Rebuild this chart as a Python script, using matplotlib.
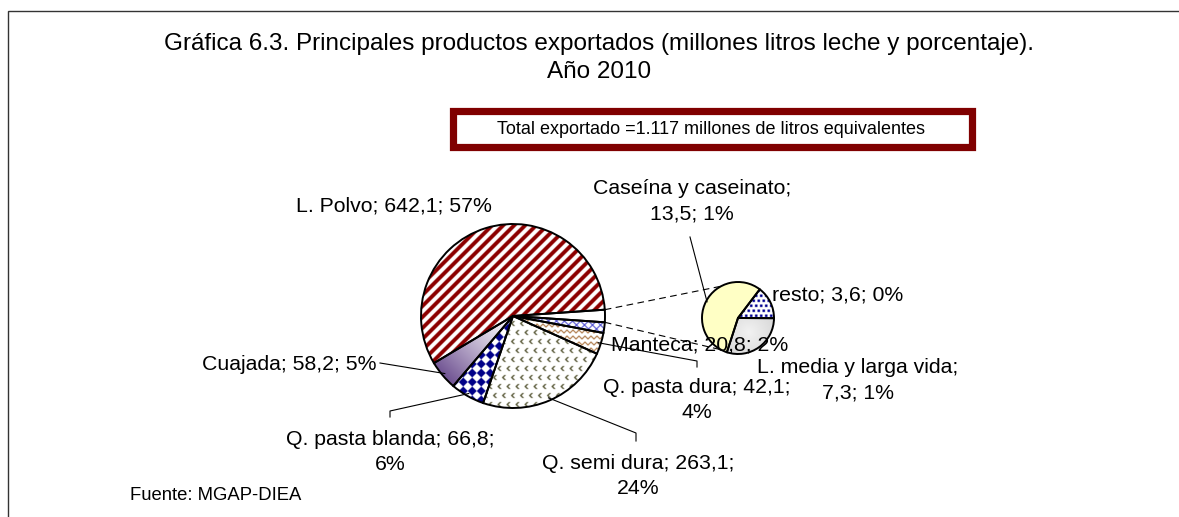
import matplotlib.pyplot as plt
import numpy as np
from matplotlib.colors import to_rgb
from matplotlib.patches import Rectangle, Wedge

plt.rcParams["font.family"] = ["Liberation Sans", "DejaVu Sans"]

# ── 0. Data (millones de litros de leche equivalentes, año 2010) ─────────────
main_names  = ["Manteca", "Q. pasta dura", "Q. semi dura",
               "Q. pasta blanda", "Cuajada", "L. Polvo"]
main_values = [20.8, 42.1, 263.1, 66.8, 58.2, 642.1]
sub_names   = ["Caseína y caseinato", "resto", "L. media y larga vida"]
sub_values  = [13.5, 3.6, 7.3]

title  = ("Gráfica 6.3. Principales productos exportados "
          "(millones litros leche y porcentaje).\nAño 2010")
source = "Fuente: MGAP-DIEA"

other = sum(sub_values)
pie_values = [other] + main_values
total = sum(pie_values)

W, H = 1179, 517


def P(x, y):
    """pixel position (from top-left) -> data coords"""
    return x, H - y


def fmt(name, v, brk=None):
    val = f"{v:.1f}".replace(".", ",")
    pct = f"{round(v / total * 100):.0f}%"
    if brk == "name":
        return f"{name};\n{val}; {pct}"
    if brk == "value":
        return f"{name}; {val};\n{pct}"
    return f"{name}; {val}; {pct}"


# ── 1. Texture helpers ───────────────────────────────────────────────────────
def mix(mask, fg, bg="white"):
    fg, bg = np.array(to_rgb(fg)), np.array(to_rgb(bg))
    m = mask.astype(float)[..., None]
    return m * fg + (1 - m) * bg


def texture(kind, X, Y, cx, cy, r):
    if kind == "stripes":
        return mix(((X - Y) % 11) < 5.2, "#8c0000")
    if kind == "chevrons":
        row = np.floor(Y / 9)
        u = (X + 4.5 * (row % 2)) % 9 - 4.5
        v = Y % 9 - 4.5
        m = (np.abs(u + 1.2 - np.abs(v)) < 1.0) & (np.abs(v) < 2.4)
        return mix(m, "#5e5e3e")
    if kind == "diamonds":
        m = (np.floor((X + Y) / 9) + np.floor((X - Y) / 9)) % 2 == 0
        return mix(m, "#000088")
    if kind == "cross":
        m = (((X + Y) % 8) < 1.3) | (((X - Y) % 8) < 1.3)
        return mix(m, "#4a4ad0")
    if kind == "zigzag":
        tri = np.abs((X / 6) % 1 - 0.5) * 2
        return mix(((Y + 2.5 * tri) % 6) < 1.5, "#a8703c")
    if kind == "dots":
        row = np.floor(Y / 5)
        u = (X + 2.5 * (row % 2)) % 5
        return mix((u < 2.5) & ((Y % 5) < 2.5), "#000090")
    if kind == "purple":
        t = np.clip(((cx - X) + (cy - Y)) / (r * 1.45), 0, 1) ** 1.2
        return mix(t, "#6a4c8e")
    if kind == "gray":
        d = np.hypot(X - cx - 0.3 * r, Y - cy + 0.4 * r) / (1.6 * r)
        return mix(np.clip(d, 0, 1), "#bdbdbd", "#f2f2f2")
    if kind == "yellow":
        return mix(np.ones_like(X, bool), "#ffffc6")
    return mix(np.zeros_like(X, bool), "white")


def fill_wedges(ax, wedges, kinds, center, r):
    cx, cy = center
    x0, x1, y0, y1 = cx - r - 2, cx + r + 2, cy - r - 2, cy + r + 2
    xs = np.arange(x0, x1, 0.5) + 0.25
    ys = np.arange(y0, y1, 0.5) + 0.25
    X, Y = np.meshgrid(xs, ys)
    for w, kind in zip(wedges, kinds):
        img = texture(kind, X, Y, cx, cy, r)
        im = ax.imshow(img, extent=(x0, x1, y0, y1), origin="lower",
                       interpolation="bilinear", zorder=1.5)
        im.set_clip_path(w)
        ax.add_patch(Wedge(w.center, w.r, w.theta1, w.theta2, fill=False,
                           edgecolor="black", linewidth=1.4, zorder=3))


def edge_point(w, frac=1.0):
    a = np.deg2rad((w.theta1 + w.theta2) / 2)
    return (w.center[0] + w.r * frac * np.cos(a),
            w.center[1] + w.r * frac * np.sin(a))


# ── 2. Figure ────────────────────────────────────────────────────────────────
fig = plt.figure(figsize=(W / 100, H / 100), dpi=100)
ax = fig.add_axes([0, 0, 1, 1])

main_c, main_r = P(513, 316), 92
sub_c, sub_r = P(738, 318), 36

start = 360 * other / total / 2
wedges, _ = ax.pie(pie_values, center=main_c, radius=main_r,
                   startangle=start, counterclock=False,
                   colors=["white"] * len(pie_values),
                   wedgeprops=dict(linewidth=0))
fill_wedges(ax, wedges,
            ["white", "cross", "zigzag", "chevrons", "diamonds",
             "purple", "stripes"], main_c, main_r)

sub_wedges, _ = ax.pie(sub_values, center=sub_c, radius=sub_r,
                       startangle=252, counterclock=False,
                       colors=["white"] * len(sub_values),
                       wedgeprops=dict(linewidth=0))
fill_wedges(ax, sub_wedges, ["yellow", "dots", "gray"], sub_c, sub_r)

# dashed connectors between the "otros" slice and the secondary pie
ow = wedges[0]
for ang_main, ang_sub in [(ow.theta2, 118), (ow.theta1, 242)]:
    a, b = np.deg2rad(ang_main), np.deg2rad(ang_sub)
    ax.plot([main_c[0] + main_r * np.cos(a), sub_c[0] + sub_r * np.cos(b)],
            [main_c[1] + main_r * np.sin(a), sub_c[1] + sub_r * np.sin(b)],
            color="black", linewidth=0.8, linestyle=(0, (6, 4)), zorder=2)

# ── 3. Labels ────────────────────────────────────────────────────────────────
fs = 15.3
all_w = dict(zip(main_names, wedges[1:]))
all_w.update(zip(sub_names, sub_wedges))
all_v = dict(zip(main_names, main_values))
all_v.update(zip(sub_names, sub_values))

labels = [  # name, x, y, ha, line break
    ("L. Polvo",             394, 206, "center", None),
    ("Caseína y caseinato",  692, 201, "center", "name"),
    ("resto",                772, 295, "left",   None),
    ("Manteca",              611, 345, "left",   None),
    ("L. media y larga vida", 858, 380, "center", "name"),
    ("Q. pasta dura",        697, 400, "center", "value"),
    ("Cuajada",              377, 364, "right",  None),
    ("Q. pasta blanda",      390, 452, "center", "value"),
    ("Q. semi dura",         638, 476, "center", "value"),
]
for name, x, y, ha, brk in labels:
    ax.text(*P(x, y), fmt(name, all_v[name], brk), ha=ha, va="center",
            fontsize=fs, linespacing=1.42, zorder=4)

leaders = {
    "Cuajada":             [(380, 363)],
    "Q. pasta blanda":     [(390, 411), (390, 417)],
    "Q. semi dura":        [(636, 433), (636, 441)],
    "Q. pasta dura":       [(697, 361), (697, 367)],
    "Caseína y caseinato": [(690, 237)],
}
for name, pts in leaders.items():
    sx, sy = edge_point(all_w[name], 0.97)
    xs = [sx] + [P(*p)[0] for p in pts]
    ys = [sy] + [P(*p)[1] for p in pts]
    ax.plot(xs, ys, color="black", linewidth=0.8, zorder=3.5)

ax.text(*P(599, 58), title, ha="center", va="center", fontsize=17.5,
        linespacing=1.36)

total_txt = f"{int(total):,}".replace(",", ".")
ax.add_patch(Rectangle(P(452.5, 146.5), 519, 36, facecolor="white",
                       edgecolor="#800000", linewidth=5.2, zorder=2))
ax.text(*P(711, 129),
        f"Total exportado ={total_txt} millones de litros equivalentes",
        ha="center", va="center", fontsize=13, zorder=3)

ax.text(*P(130, 495), source, ha="left", va="center", fontsize=13.3)

# outer chart frame (right and bottom edges fall outside the picture)
ax.add_patch(Rectangle(P(8, 560), 1300, 549, fill=False,
                       edgecolor="#333333", linewidth=1.0, zorder=5))

ax.set_xlim(0, W)
ax.set_ylim(0, H)
ax.set_aspect("auto")
ax.axis("off")

plt.savefig("out.png", dpi=100)
